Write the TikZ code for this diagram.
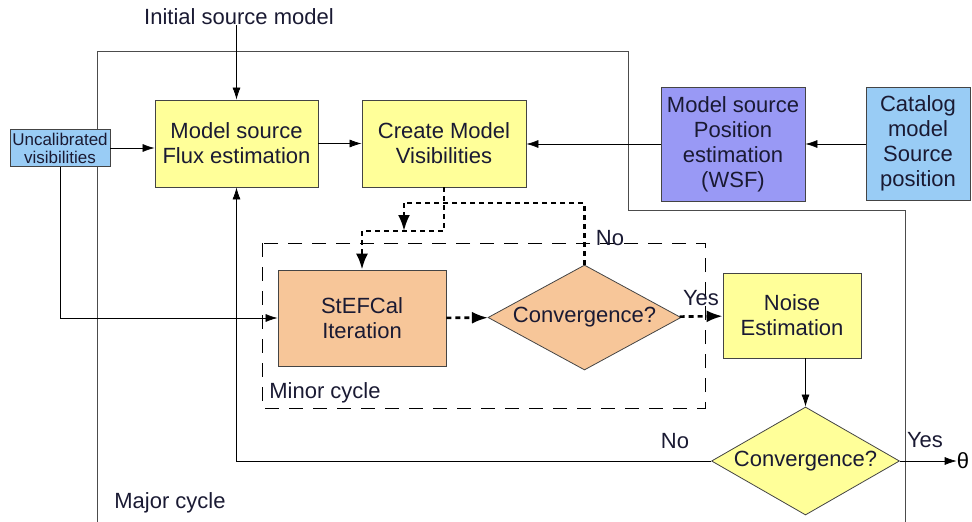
\documentclass[tikz,border=0pt]{standalone}
\usepackage{fontspec}
\setmainfont{Liberation Sans}
\usetikzlibrary{shapes.geometric,arrows.meta}
\definecolor{fyellow}{HTML}{FFFF99}
\definecolor{forange}{HTML}{F7C699}
\definecolor{fpurple}{HTML}{9999F5}
\definecolor{fblue}{HTML}{99CCF5}
\definecolor{ftext}{HTML}{1A1A33}
\definecolor{fline}{HTML}{444444}
\tikzset{
  x=1pt,y=-1pt,
  bigtxt/.style={font=\fontsize{22}{25}\selectfont, text=ftext},
  boxnode/.style={draw=fline, line width=0.8pt, bigtxt, align=center, inner sep=0pt},
  dianode/.style={draw=fline, line width=0.8pt, bigtxt, shape=diamond, inner sep=0pt, aspect=1.8},
  plain/.style={bigtxt, inner sep=0pt},
  arr/.style={draw=black, line width=0.7pt, -{Latex[length=12pt,width=8pt]}},
  thinline/.style={draw=black!70, line width=0.8pt},
  dots/.style={draw=black, line width=2.6pt, dash pattern=on 5pt off 4pt},
  dotarr/.style={dots, -{Latex[length=16pt,width=12pt]}},
}
\begin{document}
\begin{tikzpicture}
\useasboundingbox (0,0) rectangle (972,522);
% major cycle boundary
\draw[thinline] (97,522) -- (97,51) -- (628,51) -- (628,210) -- (905,210) -- (905,522);
% minor cycle box
\draw[black, line width=0.8pt, dash pattern=on 14pt off 10pt] (262,243) rectangle (705,408);

\node[plain] (init) at (239,17) {Initial source model};
\node[boxnode, fill=fblue, minimum width=100, minimum height=37, font=\fontsize{17}{18}\selectfont] (unc) at (60,148) {Uncalibrated\\visibilities};
\node[boxnode, fill=fyellow, minimum width=163, minimum height=87] (flux) at (236.5,143.5) {Model source\\Flux estimation};
\node[boxnode, fill=fyellow, minimum width=164, minimum height=87] (cmv) at (444,143.5) {Create Model\\Visibilities};
\node[boxnode, fill=fpurple, minimum width=144, minimum height=114] (wsf) at (733,144) {Model source\\Position\\estimation\\(WSF)};
\node[boxnode, fill=fblue, minimum width=104, minimum height=113] (cat) at (918,143.5) {Catalog\\model\\Source\\position};
\node[boxnode, fill=forange, minimum width=168, minimum height=96] (stef) at (362,318) {StEFCal\\Iteration};
\node[dianode, fill=forange, minimum width=193, minimum height=105] (conv1) at (584.5,317.5) {Convergence?};
\node[boxnode, fill=fyellow, minimum width=138, minimum height=85] (noise) at (792,315.5) {Noise\\Estimation};
\node[dianode, fill=fyellow, minimum width=188, minimum height=108] (conv2) at (805.5,461) {Convergence?};

\node[plain] (minor) at (325,393) {Minor cycle};
\node[plain] (major) at (170,503) {Major cycle};
\node[plain] (no1) at (610,238) {No};
\node[plain] (yes1) at (701,298) {Yes};
\node[plain] (no2) at (675,441) {No};
\node[plain] (yes2) at (925,440) {Yes};
\node[plain, text=black] (theta) at (963,461) {θ};

\coordinate (j1) at (446,231);
\coordinate (j2) at (404,203);

% connectors
\draw[arr] (flux.north |- init.south) -- (flux.north);
\draw[arr] (unc.east) -- (unc.east -| flux.west);
\draw[arr] (unc.south) |- (stef.west);
\draw[arr] (flux) -- (cmv);
\draw[arr] (wsf.west) -- (wsf.west -| cmv.east);
\draw[arr] (cat.west |- wsf.west) -- (wsf.east);
\draw[dotarr] (cmv.south) -- (cmv.south |- j1) -| (stef.north);
\draw[dots] (conv1.north) -- (conv1.north |- j2) -- (j2);
\draw[dotarr] (j2) -- (j2 |- j1);
\draw[dotarr] (stef) -- (conv1);
\draw[dotarr] (conv1) -- (noise);
\draw[arr] (noise.south -| conv2.north) -- (conv2.north);
\draw[arr] (conv2.west) -| (flux.south);
\draw[arr] (conv2.east) -- (theta.west);
\end{tikzpicture}
\end{document}
